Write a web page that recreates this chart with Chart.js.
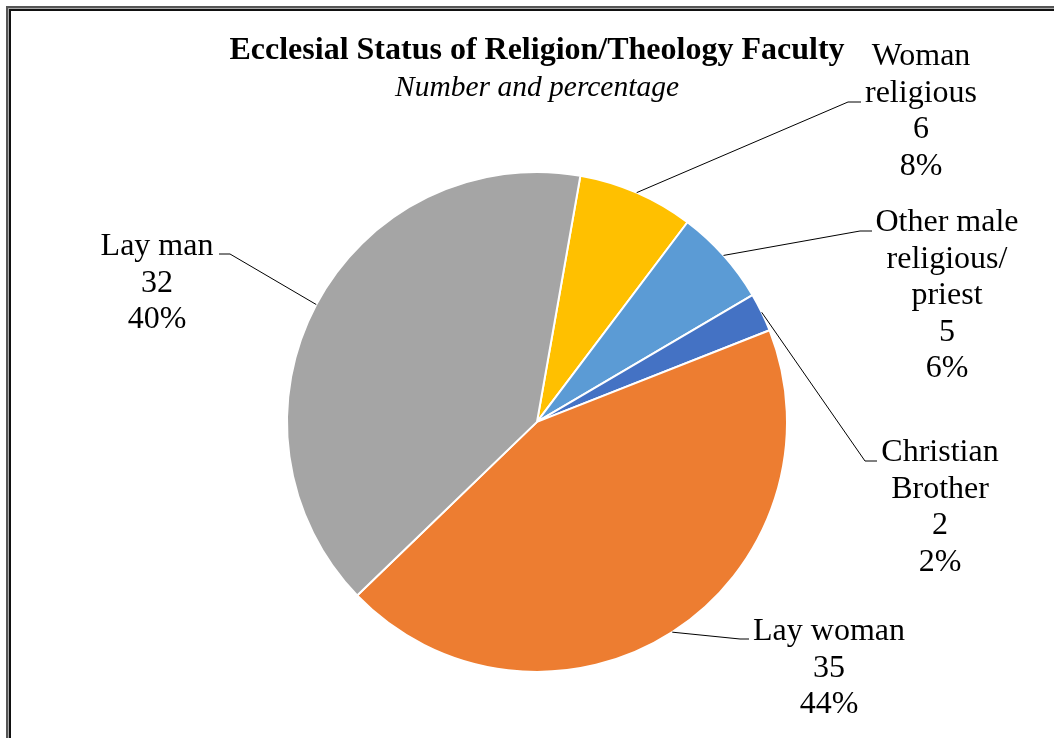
<!DOCTYPE html>
<html>
<head>
<meta charset="utf-8">
<script src="https://cdn.jsdelivr.net/npm/chart.js@4.4.0/dist/chart.umd.min.js"></script>
<style>
  html, body { margin: 0; padding: 0; background: #fff; }
  #wrap { position: relative; width: 1054px; height: 738px; overflow: hidden; }
  .frame { position: absolute; left: 6px; top: 6px; width: 1100px; height: 800px; border: 2px solid #555; background: #a9a9a9; }
  .frame-inner { position: absolute; left: 1px; top: 1px; right: 0; bottom: 0; border-left: 2px solid #111; border-top: 2px solid #111; background: #fff; }
  #chart { position: absolute; left: 0; top: 0; }
</style>
</head>
<body>
<div id="wrap">
  <div class="frame"><div class="frame-inner"></div></div>
  <canvas id="chart" width="1054" height="738"></canvas>
</div>
<script>
const categories = [['Woman', 'religious'], ['Other male', 'religious/', 'priest'], ['Christian', 'Brother'], ['Lay woman'], ['Lay man']];
const counts = [6, 5, 2, 35, 32];
const percentLabels = ['8%', '6%', '2%', '44%', '40%'];
const sliceColors = ['#FFC000', '#5B9BD5', '#4472C4', '#ED7D31', '#A5A5A5'];

// label block position (centre x, first baseline) and leader line bend points
const labelLayout = [
    { cx: 921, y: 65,  elbow: [848, 102], end: [861, 102] },
    { cx: 947, y: 231, elbow: [860, 231], end: [872, 231] },
    { cx: 940, y: 461, elbow: [865, 461], end: [877, 461] },
    { cx: 829, y: 640, elbow: [740, 639], end: [749, 639] },
    { cx: 157, y: 255, elbow: [230, 254], end: [219, 254] }
];
const LINE_H = 36.6;

const leaderLabels = {
    id: 'leaderLabels',
    afterDatasetsDraw(chart) {
        const ctx = chart.ctx;
        const arcs = chart.getDatasetMeta(0).data;
        ctx.save();
        arcs.forEach((arc, i) => {
            const p = arc.getProps(['x', 'y', 'startAngle', 'endAngle', 'outerRadius'], true);
            const mid = (p.startAngle + p.endAngle) / 2;
            const lay = labelLayout[i];
            ctx.beginPath();
            ctx.moveTo(p.x + Math.cos(mid) * p.outerRadius, p.y + Math.sin(mid) * p.outerRadius);
            ctx.lineTo(lay.elbow[0], lay.elbow[1]);
            ctx.lineTo(lay.end[0], lay.end[1]);
            ctx.strokeStyle = '#000';
            ctx.lineWidth = 1;
            ctx.stroke();

            const lines = [...categories[i], String(counts[i]), percentLabels[i]];
            ctx.font = '32px "Liberation Serif"';
            ctx.fillStyle = '#000';
            ctx.textAlign = 'center';
            ctx.textBaseline = 'alphabetic';
            lines.forEach((t, k) => ctx.fillText(t, lay.cx, lay.y + k * LINE_H));
        });
        ctx.restore();
    }
};

new Chart(document.getElementById('chart'), {
    type: 'pie',
    data: {
        labels: categories.map(c => c.join(' ')),
        datasets: [{
            data: counts,
            backgroundColor: sliceColors,
            borderColor: '#fff',
            borderWidth: 2
        }]
    },
    options: {
        responsive: false,
        animation: false,
        rotation: 10,
        radius: 250,
        layout: { padding: { left: 30, right: 10, top: 32, bottom: 3 } },
        plugins: {
            legend: { display: false },
            tooltip: { enabled: false },
            title: {
                display: true,
                text: 'Ecclesial Status of Religion/Theology Faculty',
                color: '#000',
                font: { family: 'Liberation Serif', size: 32, weight: 'bold', lineHeight: 1.2 },
                padding: { top: 0, bottom: 0 }
            },
            subtitle: {
                display: true,
                text: 'Number and percentage',
                color: '#000',
                font: { family: 'Liberation Serif', size: 29.5, style: 'italic', lineHeight: 1.2 },
                padding: { top: 0, bottom: 3 }
            }
        }
    },
    plugins: [leaderLabels]
});
</script>
</body>
</html>
